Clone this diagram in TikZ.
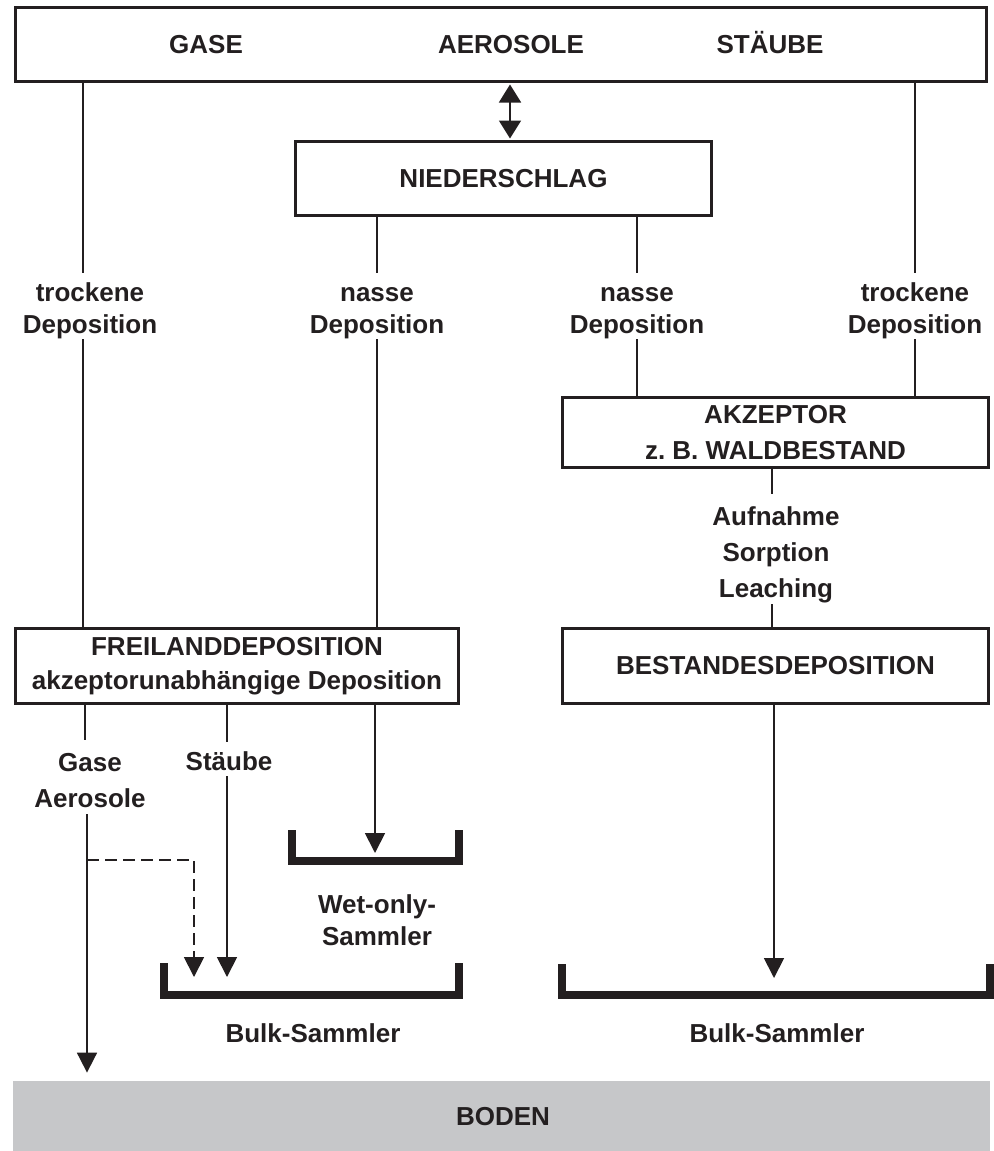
\documentclass[tikz,border=0pt]{standalone}
\usepackage{fontspec}
\setmainfont{Liberation Sans}
\usetikzlibrary{arrows.meta}
\definecolor{ink}{HTML}{231F20}
\definecolor{soil}{HTML}{C6C7C9}
\begin{document}
\begin{tikzpicture}[x=0.5pt,y=-0.5pt,
  every node/.style={text=ink, font=\fontsize{13pt}{16pt}\selectfont\bfseries},
  box/.style={draw=ink, line width=1.5pt, inner sep=0pt, align=center},
  toptext/.style={anchor=base, inner sep=0pt},
  lbl/.style={inner sep=0pt, align=center},
  lblwide/.style={lbl, font=\fontsize{13pt}{18pt}\selectfont\bfseries},
  conn/.style={draw=ink, line width=0.9pt},
  arr/.style={conn, -{Triangle[length=10pt,width=10pt]}},
  dbl/.style={conn, {Triangle[length=9pt,width=11pt]}-{Triangle[length=9pt,width=11pt]}, shorten <=0.75pt, shorten >=0.75pt},
  tray/.style={draw=ink, line width=3.8pt, line join=miter}]
\useasboundingbox (0,0) rectangle (994,1151);

% boxes
\node[box, minimum width=485.5pt, minimum height=37pt] (top) at (501,44.5) {};
\node[toptext] (gase) at (206,54) {GASE};
\node[toptext] (aero) at (511,54) {AEROSOLE};
\node[toptext] (staeube) at (770,54) {STÄUBE};

\node[box, minimum width=208pt, minimum height=37pt] (nieder) at (503.5,178.5) {NIEDERSCHLAG};
\node[box, minimum width=213pt, minimum height=35pt, font=\fontsize{13pt}{18pt}\selectfont\bfseries] (akz) at (775.5,432.5) {AKZEPTOR\\z.\ B.\ WALDBESTAND};
\node[box, minimum width=213pt, minimum height=37.5pt] (best) at (775.5,666) {BESTANDESDEPOSITION};
\node[box, minimum width=221.5pt, minimum height=37.5pt, font=\fontsize{13pt}{17pt}\selectfont\bfseries] (frei) at (237,666) {FREILANDDEPOSITION\\akzeptorunabhängige Deposition};
\node[fill=soil, inner sep=0pt, minimum width=488.5pt, minimum height=35pt] (boden) at (501.5,1116) {};
\node (bodentxt) at (503,1117) {BODEN};

% labels
\node[lbl] (tdl) at (90,311) {\strut trockene\\\strut Deposition};
\node[lbl] (ndl) at (377,311) {\strut nasse\\\strut Deposition};
\node[lbl] (ndr) at (637,311) {\strut nasse\\\strut Deposition};
\node[lbl] (tdr) at (915,311) {\strut trockene\\\strut Deposition};
\node[lblwide] (asl) at (776,554) {\strut Aufnahme\\\strut Sorption\\\strut Leaching};
\node[lblwide] (gal) at (90,782) {\strut Gase\\\strut Aerosole};
\node[lbl] (stl) at (229,764) {\strut Stäube};
\node[lbl] (wol) at (377,920) {Wet-only-\\Sammler};
\node (bsl) at (313,1033) {Bulk-Sammler};
\node (bsr) at (777,1033) {Bulk-Sammler};

% free ends
\coordinate (wtip) at (375,853);
\coordinate (stip) at (227,977);
\coordinate (split) at (87,860);
\coordinate (dtip) at (194,977);
\coordinate (btip) at (774,978);

% connectors
\draw[dbl] ([xshift=4.5pt]top.south) -- ([xshift=4.5pt]top.south |- nieder.north);

\draw[conn] ([xshift=-3.5pt]tdl.north |- top.south) -- ([xshift=-3.5pt,yshift=3pt]tdl.north);
\draw[conn] ([xshift=-3.5pt,yshift=2pt]tdl.south) -- ([xshift=-3.5pt]tdl.south |- frei.north);

\draw[conn] (ndl.north |- nieder.south) -- ([yshift=3pt]ndl.north);
\draw[conn] ([yshift=2pt]ndl.south) -- (ndl.south |- frei.north);

\draw[conn] (ndr.north |- nieder.south) -- ([yshift=3pt]ndr.north);
\draw[conn] ([yshift=2pt]ndr.south) -- (ndr.south |- akz.north);

\draw[conn] (tdr.north |- top.south) -- ([yshift=3pt]tdr.north);
\draw[conn] ([yshift=2pt]tdr.south) -- (tdr.south |- akz.north);

\draw[conn] ([xshift=-2pt]asl.north |- akz.south) -- ([xshift=-2pt,yshift=3pt]asl.north);
\draw[conn] ([xshift=-2pt,yshift=2pt]asl.south) -- ([xshift=-2pt]asl.south |- best.north);

\draw[conn] ([xshift=-2.5pt]gal.north |- frei.south) -- ([xshift=-2.5pt,yshift=3pt]gal.north);
\draw[arr, shorten >=4pt] ([xshift=-1.5pt,yshift=2pt]gal.south) -- ([xshift=-1.5pt]gal.south |- boden.north);
\draw[arr, dash pattern=on 6pt off 3pt] (split) -| (dtip);

\draw[conn] ([xshift=-1pt]stl.north |- frei.south) -- ([xshift=-1pt,yshift=3pt]stl.north);
\draw[arr] ([xshift=-1pt,yshift=2pt]stl.south) -- (stip);

\draw[arr] (wtip |- frei.south) -- (wtip);
\draw[arr] (btip |- best.south) -- (btip);

% collectors
\draw[tray] (292,830) -- (292,861) -- (459,861) -- (459,830);
\draw[tray] (164,963) -- (164,995) -- (459,995) -- (459,963);
\draw[tray] (562,964) -- (562,995) -- (990,995) -- (990,964);
\end{tikzpicture}
\end{document}
